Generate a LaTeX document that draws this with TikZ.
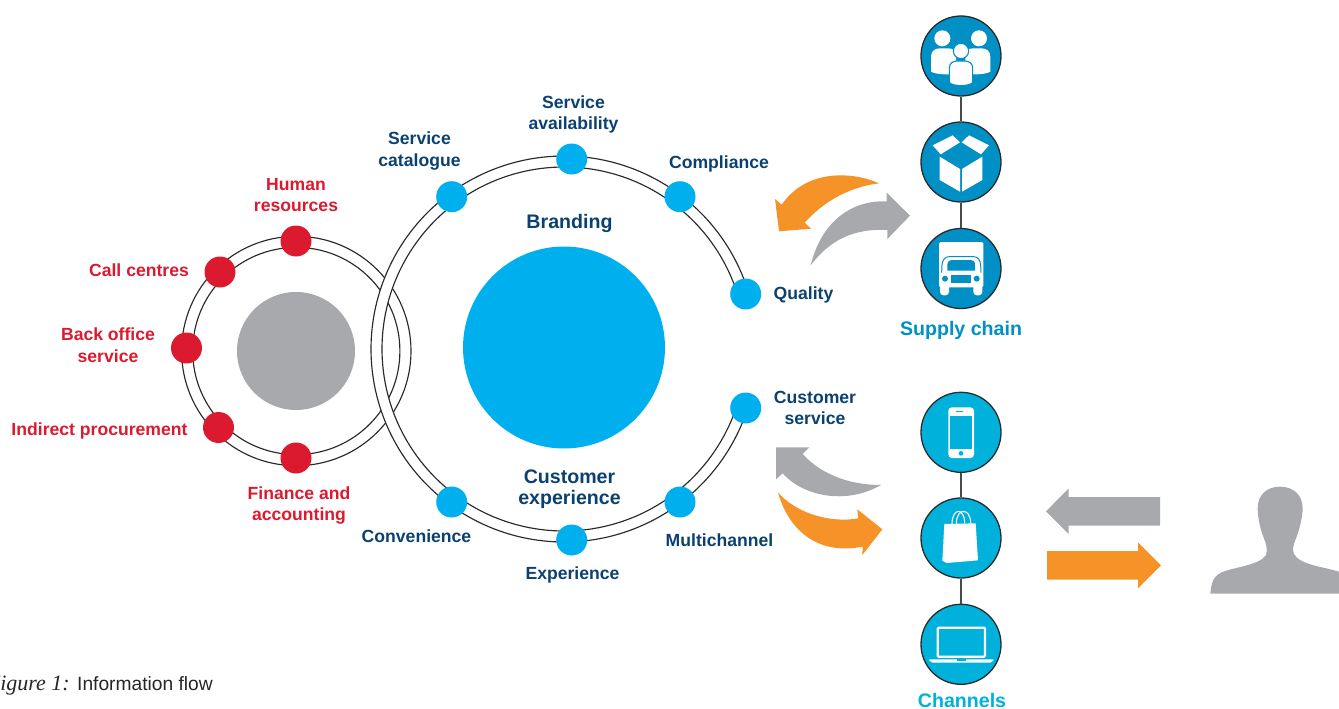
\documentclass[tikz,border=0pt]{standalone}
\usepackage{fontspec}
\setmainfont{Liberation Sans}
\newfontfamily\figserif{Liberation Serif}
\definecolor{navytxt}{HTML}{0B4170}
\definecolor{redtxt}{HTML}{DB1A30}
\definecolor{skyb}{HTML}{00B0EE}
\definecolor{grayb}{HTML}{A7A9AC}
\definecolor{orangeb}{HTML}{F59328}
\definecolor{supplyb}{HTML}{0090C5}
\definecolor{chanb}{HTML}{00B1DB}
\definecolor{ringc}{HTML}{2A2A2A}
\tikzset{
  lab/.style={font=\fontsize{17.6}{21.5}\selectfont\bfseries,align=center,inner sep=0pt,text=navytxt},
  redlab/.style={lab,text=redtxt},
  head/.style={font=\fontsize{19.6}{21}\selectfont\bfseries,align=center,inner sep=0pt,text=navytxt},
  bluedot/.style={circle,fill=skyb,minimum size=31pt,inner sep=0pt},
  reddot/.style={circle,fill=redtxt,minimum size=31pt,inner sep=0pt},
  iconS/.style={circle,draw=ringc,line width=1.3pt,fill=supplyb,minimum size=80pt,inner sep=0pt},
  iconC/.style={circle,draw=ringc,line width=1.3pt,fill=chanb,minimum size=80pt,inner sep=0pt},
  ringline/.style={draw=ringc,line width=1.15pt},
  link/.style={draw=ringc!85!white,line width=1.3pt},
  zoomed/.style={x=0.33333pt,y=-0.33333pt}
}
\begin{document}
\begin{tikzpicture}[x=1pt,y=-1pt]
\useasboundingbox (0,0) rectangle (1339,709);
% discs
\node[circle,fill=grayb,minimum size=118pt,inner sep=0pt] (graydisc) at (296,351) {};
\node[circle,fill=skyb,minimum size=202pt,inner sep=0pt] (bluedisc) at (564,347.5) {};
% small ring
\draw[ringline] (296.3,351) circle[radius=114.7];
\draw[ringline] (296.3,351) circle[radius=103.6];
% big ring, passing over the small one
\draw[white,line width=11pt] plot[domain=-17:-343,samples=240] ({564+187.5*cos(\x)},{349+187.5*sin(\x)});
\draw[ringline] plot[domain=-17:-343,samples=240] ({564+193*cos(\x)},{349+193*sin(\x)});
\draw[ringline] plot[domain=-17:-343,samples=240] ({564+182*cos(\x)},{349+182*sin(\x)});
% dots
\node[reddot] (d1) at (296,241) {};
\node[reddot] (d2) at (220,272) {};
\node[reddot] (d3) at (186.5,348) {};
\node[reddot] (d4) at (218.5,427.5) {};
\node[reddot] (d5) at (296,458) {};
\node[bluedot] (b1) at (451.7,196.7) {};
\node[bluedot] (b2) at (571.7,159) {};
\node[bluedot] (b3) at (680,196.7) {};
\node[bluedot] (b4) at (745.7,294) {};
\node[bluedot] (b5) at (745.7,408) {};
\node[bluedot] (b6) at (680,502) {};
\node[bluedot] (b7) at (571.7,540) {};
\node[bluedot] (b8) at (451.7,502) {};
% labels
\node[redlab] (t1) at (296,195) {Human\\resources};
\node[redlab] (t2) at (139,270) {Call centres};
\node[redlab] (t3) at (108,345) {Back office\\service};
\node[redlab] (t4) at (99.5,431) {Indirect procurement};
\node[redlab] (t5) at (299,505.5) {Finance and\\accounting};
\node[lab] (t6) at (419.5,151) {Service\\catalogue};
\node[lab] (t7) at (573.5,114.5) {Service\\availability};
\node[lab] (t8) at (719,163.5) {Compliance};
\node[lab] (t9) at (803.5,295) {Quality};
\node[lab] (t10) at (815,408) {Customer\\service};
\node[lab] (t11) at (719.5,540) {Multichannel};
\node[lab] (t12) at (572.5,575) {Experience};
\node[lab] (t13) at (416.5,536) {Convenience};
\node[head] (h1) at (569.5,223) {Branding};
\node[head] (h2) at (569.5,489.5) {Customer\\experience};
% curved arrows (upper)
\begin{scope}[shift={(730,160)},zoomed]
\fill[orangeb] (447,70) .. controls (370,35) and (230,25) .. (155,134) -- (135,117) -- (147,214) -- (243,206) -- (224,188) .. controls (280,125) and (360,80) .. (447,70) -- cycle;
\fill[grayb] (242,316) .. controls (270,200) and (350,120) .. (470,124) -- (470,98) -- (540,167) -- (472,237) -- (472,210) .. controls (370,205) and (300,240) .. (242,316) -- cycle;
\end{scope}
% curved arrows (lower)
\begin{scope}[shift={(730,430)},zoomed]
\fill[grayb] (453,165) .. controls (370,165) and (280,140) .. (218,72) -- (238,52) -- (138,52) -- (138,148) -- (158,130) .. controls (220,200) and (350,225) .. (453,165) -- cycle;
\fill[orangeb] (144,188) .. controls (200,250) and (300,280) .. (385,265) -- (382,238) -- (457,298) -- (397,375) -- (398,350) .. controls (270,375) and (180,310) .. (144,188) -- cycle;
\end{scope}
% straight arrows and person
\begin{scope}[shift={(1030,470)},zoomed]
\fill[grayb] (390,81) -- (116,81) -- (116,55) -- (48,124) -- (116,192) -- (116,167) -- (390,167) -- cycle;
\fill[orangeb] (51,243) -- (324,243) -- (324,217) -- (393,286) -- (324,355) -- (324,329) -- (51,329) -- cycle;
\fill[grayb] (541,371) .. controls (544,340) and (548,320) .. (575,307) .. controls (610,292) and (690,285) .. (708,255) .. controls (714,240) and (708,220) .. (700,200) .. controls (690,175) and (683,140) .. (683,115) .. controls (683,75) and (710,50) .. (750,50) .. controls (790,50) and (818,75) .. (818,115) .. controls (818,140) and (808,180) .. (798,205) .. controls (790,225) and (786,240) .. (792,252) .. controls (810,285) and (880,290) .. (927,305) -- (927,371) -- cycle;
\end{scope}
% icon circles
\node[iconS] (s1) at (961,56) {};
\node[iconS] (s2) at (961,162) {};
\node[iconS] (s3) at (961,268.5) {};
\node[iconC] (c1) at (961,432.3) {};
\node[iconC] (c2) at (961,538) {};
\node[iconC] (c3) at (961,644.3) {};
\draw[link] (s1) -- (s2);
\draw[link] (s2) -- (s3);
\draw[link] (c1) -- (c2);
\draw[link] (c2) -- (c3);
% people icon
\begin{scope}[shift={(880,0)},zoomed]
\fill[white] (187,115) circle[radius=24];
\fill[white] (297,115) circle[radius=24];
\fill[white] (153,215) -- (153,170) .. controls (153,153) and (165,145) .. (180,145) -- (205,145) .. controls (220,145) and (228,153) .. (228,170) -- (228,222) .. controls (200,224) and (170,224) .. (153,215) -- cycle;
\fill[white] (331,215) -- (331,170) .. controls (331,153) and (319,145) .. (304,145) -- (279,145) .. controls (264,145) and (256,153) .. (256,170) -- (256,222) .. controls (284,224) and (314,224) .. (331,215) -- cycle;
\filldraw[white,draw=supplyb,line width=1.1pt] (243,153) circle[radius=23];
\filldraw[white,draw=supplyb,line width=1.1pt] (208,248) -- (208,205) .. controls (208,190) and (218,183) .. (232,183) -- (254,183) .. controls (268,183) and (278,190) .. (278,205) -- (278,248) .. controls (262,260) and (224,260) .. (208,248) -- cycle;
% box icon
\fill[white] (158,436) -- (218,406) -- (240,427) -- (182,463) -- cycle;
\fill[white] (327,436) -- (267,406) -- (245,427) -- (303,463) -- cycle;
\fill[white] (179,470) -- (240,507) -- (240,575) -- (179,540) -- cycle;
\fill[white] (246,507) -- (307,470) -- (307,540) -- (246,575) -- cycle;
\end{scope}
% truck icon
\begin{scope}[shift={(925,230)},zoomed]
\fill[white,rounded corners=1.5pt] (42,36) rectangle (175,172);
\fill[white,rounded corners=3.5pt] (45,160) rectangle (72,196);
\fill[white,rounded corners=3.5pt] (145,160) rectangle (172,196);
\draw[supplyb,line width=1pt] (50,128) -- (51,105) .. controls (52,90) and (60,80) .. (72,80) -- (146,80) .. controls (158,80) and (166,90) .. (167,105) -- (168,128);
\fill[supplyb] (67,122) -- (67,105) .. controls (68,95) and (72,90) .. (80,90) -- (138,90) .. controls (146,90) and (150,95) .. (150,105) -- (150,122) -- cycle;
\fill[supplyb] (60,146) circle[radius=9];
\fill[supplyb] (155,146) circle[radius=9];
\fill[supplyb] (78,134) rectangle (138,158);
\end{scope}
% channel icons
\begin{scope}[shift={(880,380)},zoomed]
\fill[white,rounded corners=3.5pt] (205,82) rectangle (282,234);
\fill[chanb] (211,107) rectangle (276,206);
\fill[chanb] (243,220) circle[radius=7];
\fill[chanb] (229,94) rectangle (250,96.5);
% bag
\fill[white] (193,432) -- (287,430) -- (294,541) -- (200,549) -- (187,542) -- cycle;
\draw[white,line width=1.1pt] (216,432) .. controls (216,382) and (254,382) .. (254,430);
\draw[white,line width=1.1pt] (229,432) .. controls (229,382) and (272,382) .. (272,430);
% laptop
\draw[white,line width=2.2pt,rounded corners=1pt] (173,743) rectangle (315,830);
\fill[white] (148,838) -- (340,838) -- (340,842) -- (330,848) -- (158,848) -- (148,842) -- cycle;
\fill[chanb] (230,838) rectangle (258,842);
\end{scope}
% group titles
\node[font=\fontsize{19.6}{21}\selectfont\bfseries,text=supplyb,inner sep=0pt] (g1) at (961,330) {Supply chain};
\node[font=\fontsize{19.6}{21}\selectfont\bfseries,text=chanb,inner sep=0pt] (g2) at (962,700.5) {Channels};
% caption
\node[anchor=base east,inner sep=0pt,font=\fontsize{22}{24}\selectfont\figserif\itshape,text=black!85] (cap1) at (70,690) {Figure 1:};
\node[anchor=base west,inner sep=0pt,font=\fontsize{19.2}{22}\selectfont,text=black!85] (cap2) at (77,690) {Information flow};
\end{tikzpicture}
\end{document}
